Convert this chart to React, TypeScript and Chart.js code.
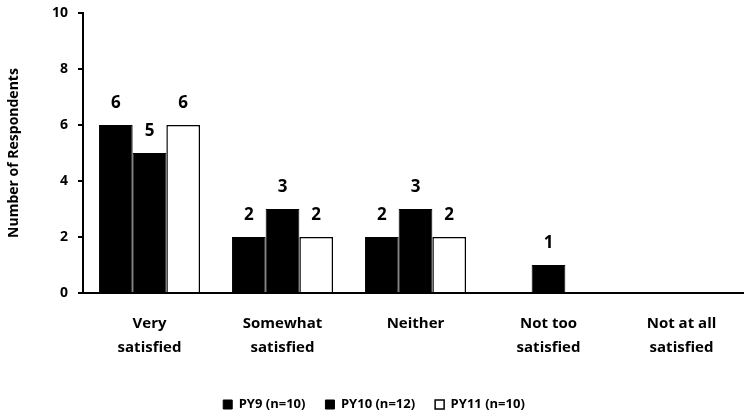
import React, { useEffect, useRef } from "react";
import { Chart, registerables } from "chart.js";

Chart.register(...registerables);

const categories: (string | string[])[] = [
  ["Very", "satisfied"],
  ["Somewhat", "satisfied"],
  "Neither",
  ["Not too", "satisfied"],
  ["Not at all", "satisfied"],
];
const py9 = [6, 2, 2, 0, 0];
const py10 = [5, 3, 3, 1, 0];
const py11 = [6, 2, 2, 0, 0];
const seriesLabels = ["PY9 (n=10)", "PY10 (n=12)", "PY11 (n=10)"];
const yTicks = [0, 2, 4, 6, 8, 10];

const FONT = "'Open Sans', Lato, sans-serif";

// Writes each non-zero value above its bar
const valueLabels = {
  id: "valueLabels",
  afterDatasetsDraw(chart: any) {
    const ctx = chart.ctx;
    ctx.save();
    ctx.fillStyle = "#000";
    ctx.font = `bold 17px ${FONT}`;
    ctx.textAlign = "center";
    ctx.textBaseline = "middle";
    chart.data.datasets.forEach((ds: any, i: number) => {
      const meta = chart.getDatasetMeta(i);
      meta.data.forEach((bar: any, j: number) => {
        const v = ds.data[j];
        if (!v) return;
        ctx.fillText(String(v), bar.x, bar.y - 22);
      });
    });
    ctx.restore();
  },
};

export default function App() {
  const ref = useRef<HTMLCanvasElement>(null);

  useEffect(() => {
    if (!ref.current) return;
    const chart = new Chart(ref.current, {
      type: "bar",
      data: {
        labels: categories,
        datasets: [
          {
            label: seriesLabels[0],
            data: py9,
            backgroundColor: "#000",
            borderColor: "#000",
            borderWidth: 1,
          },
          {
            label: seriesLabels[1],
            data: py10,
            backgroundColor: "#000",
            borderColor: "#000",
            borderWidth: 1,
          },
          {
            label: seriesLabels[2],
            data: py11,
            backgroundColor: "#fff",
            borderColor: "#000",
            borderWidth: 1.5,
          },
        ],
      },
      options: {
        responsive: true,
        maintainAspectRatio: false,
        animation: false,
        layout: { padding: { top: 13, right: 0, left: 0, bottom: -10 } },
        datasets: {
          bar: { categoryPercentage: 0.76, barPercentage: 1 },
        },
        plugins: {
          legend: {
            position: "bottom",
            labels: {
              color: "#000",
              font: { family: FONT, size: 13, weight: "bold" },
              boxWidth: 9,
              boxHeight: 9,
              padding: 20,
            },
          },
          tooltip: { enabled: false },
        },
        scales: {
          x: {
            grid: { display: false, drawTicks: false },
            border: { color: "#000", width: 2 },
            ticks: {
              color: "#000",
              font: { family: FONT, size: 15, weight: "bold", lineHeight: 1.6 },
              padding: 19,
              maxRotation: 0,
              autoSkip: false,
            },
            afterFit(scale: any) {
              scale.height = 85;
            },
          },
          y: {
            min: 0,
            max: 10,
            afterBuildTicks(scale: any) {
              scale.ticks = yTicks.map((v) => ({ value: v }));
            },
            afterFit(scale: any) {
              scale.width = 83;
              scale.paddingTop = 0;
              scale.paddingBottom = 0;
            },
            grid: {
              display: true,
              drawOnChartArea: false,
              drawTicks: true,
              tickLength: 5,
              color: "#000",
              lineWidth: 2,
            },
            border: { color: "#000", width: 2 },
            ticks: {
              color: "#000",
              font: { family: FONT, size: 14, weight: "bold", lineHeight: 1 },
              padding: 10,
            },
            title: {
              display: true,
              text: "Number of Respondents",
              color: "#000",
              font: { family: FONT, size: 14, weight: "bold" },
              padding: { top: 6, bottom: 0 },
            },
          },
        },
      },
      plugins: [valueLabels],
    });
    return () => chart.destroy();
  }, []);

  return (
    <div
      style={{
        position: "fixed",
        left: 0,
        top: 0,
        width: 744,
        height: 411,
        overflow: "hidden",
        background: "#fff",
      }}
    >
      <div style={{ width: 748, height: 411 }}>
        <canvas ref={ref} />
      </div>
    </div>
  );
}
